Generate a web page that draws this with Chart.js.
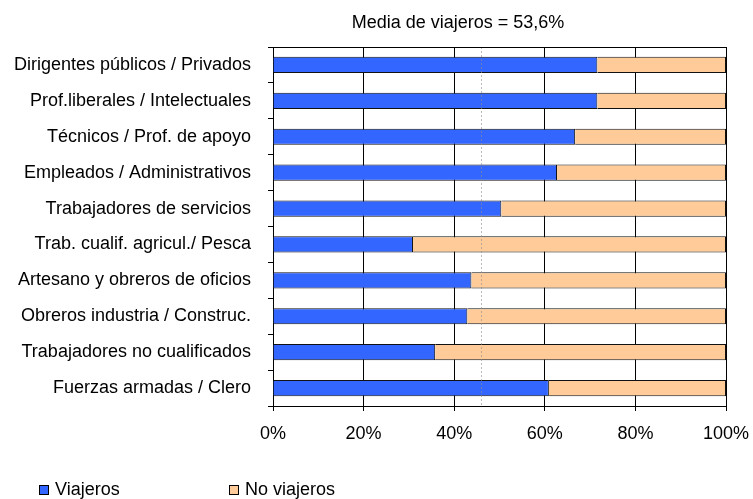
<!DOCTYPE html>
<html lang="es">
<head>
<meta charset="utf-8">
<title>Media de viajeros</title>
<script src="https://cdn.jsdelivr.net/npm/chart.js@4.4.1/dist/chart.umd.min.js"></script>
<style>
  body { margin: 0; background: #fff; }
  #wrap { position: relative; width: 753px; height: 499px; }
  #legend { position: absolute; left: 0; top: 479px; width: 753px; height: 20px;
    font: 18px "Liberation Sans", Arial, sans-serif; color: #000; }
  #legend span.item { position: absolute; top: 0; line-height: 20px; white-space: nowrap; }
  #legend span.box { display: inline-block; width: 8px; height: 8px; border: 1px solid #000;
    margin-right: 6px; vertical-align: 0px; }
</style>
</head>
<body>
<div id="wrap">
  <canvas id="chart" width="753" height="499"></canvas>
  <div id="legend"></div>
</div>
<script>
// datos
const categorias = [
  "Dirigentes públicos / Privados",
  "Prof.liberales / Intelectuales",
  "Técnicos / Prof. de apoyo",
  "Empleados / Administrativos",
  "Trabajadores de servicios",
  "Trab. cualif. agricul./ Pesca",
  "Artesano y obreros de oficios",
  "Obreros industria / Construc.",
  "Trabajadores no cualificados",
  "Fuerzas armadas / Clero",
];
const viajeros = [71.6, 71.6, 66.7, 62.7, 50.4, 30.9, 43.8, 42.9, 35.8, 60.9];
const noViajeros = [28.4, 28.4, 33.3, 37.3, 49.6, 69.1, 56.2, 57.1, 64.2, 39.1];
const titulo = "Media de viajeros = 53,6%";
const lineaMedia = 46; // posicion de la linea punteada (%)

const fuente = '"Liberation Sans", Arial, sans-serif';

// titulo arriba
const tituloPlugin = {
  id: "tituloPlugin",
  afterDraw(chart) {
    const ctx = chart.ctx;
    ctx.save();
    ctx.font = "18px " + fuente;
    ctx.fillStyle = "#000";
    ctx.textAlign = "center";
    ctx.textBaseline = "alphabetic";
    ctx.fillText(titulo, 458, 28);
    ctx.restore();
  },
};

// borde del area y linea de la media
const bordePlugin = {
  id: "bordePlugin",
  afterDatasetsDraw(chart) {
    const { ctx, chartArea, scales } = chart;
    ctx.save();
    const x = Math.round(scales.x.getPixelForValue(lineaMedia)) + 0.5;
    ctx.strokeStyle = "rgba(140,140,140,0.6)";
    ctx.lineWidth = 1;
    ctx.setLineDash([2, 2]);
    ctx.beginPath();
    ctx.moveTo(x, chartArea.top);
    ctx.lineTo(x, chartArea.bottom);
    ctx.stroke();
    ctx.setLineDash([]);
    ctx.strokeStyle = "#000";
    ctx.beginPath();
    ctx.moveTo(chartArea.left, chartArea.top + 0.5);
    ctx.lineTo(chartArea.right, chartArea.top + 0.5);
    ctx.stroke();
    ctx.restore();
  },
};

// leyenda html
const leyendaPlugin = {
  id: "leyendaPlugin",
  afterUpdate(chart) {
    const cont = document.getElementById("legend");
    cont.innerHTML = "";
    const posiciones = [39, 229];
    chart.data.datasets.forEach((ds, i) => {
      const item = document.createElement("span");
      item.className = "item";
      item.style.left = posiciones[i] + "px";
      const box = document.createElement("span");
      box.className = "box";
      box.style.background = ds.backgroundColor;
      item.appendChild(box);
      item.appendChild(document.createTextNode(ds.label));
      cont.appendChild(item);
    });
  },
};

new Chart(document.getElementById("chart"), {
  type: "bar",
  data: {
    labels: categorias,
    datasets: [
      {
        label: "Viajeros",
        data: viajeros,
        backgroundColor: "#3366FF",
        borderColor: "#111",
        borderWidth: 1,
        categoryPercentage: 0.45,
        barPercentage: 1,
      },
      {
        label: "No viajeros",
        data: noViajeros,
        backgroundColor: "#FFCC99",
        borderColor: "#111",
        borderWidth: 1,
        categoryPercentage: 0.45,
        barPercentage: 1,
      },
    ],
  },
  options: {
    indexAxis: "y",
    responsive: false,
    animation: false,
    layout: { padding: { top: 47, right: 27, left: 0, bottom: 0 } },
    plugins: {
      legend: { display: false },
      title: { display: false },
      tooltip: { enabled: false },
    },
    scales: {
      x: {
        stacked: true,
        min: 0,
        max: 100,
        afterFit: (scale) => {
          scale.height = 93;
          scale.paddingRight = 0;
          scale.paddingLeft = 0;
        },
        ticks: {
          stepSize: 20,
          callback: (v) => v + "%",
          color: "#000",
          font: { family: fuente, size: 18 },
          padding: 12,
          maxRotation: 0,
        },
        grid: { color: "#000", tickColor: "#000", tickLength: 5 },
        border: { color: "#000" },
      },
      y: {
        stacked: true,
        afterFit: (scale) => { scale.width = 273; },
        ticks: {
          color: "#000",
          font: { family: fuente, size: 18 },
          padding: 17,
        },
        grid: { drawOnChartArea: false, offset: true, tickColor: "#000", tickLength: 5 },
        border: { color: "#000" },
      },
    },
  },
  plugins: [tituloPlugin, bordePlugin, leyendaPlugin],
});
</script>
</body>
</html>
